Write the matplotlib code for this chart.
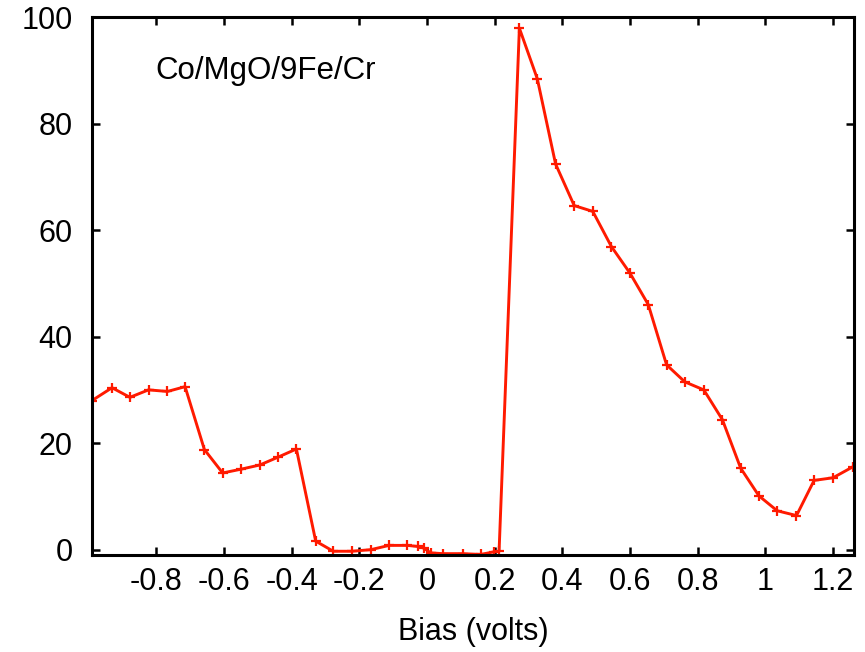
import matplotlib
matplotlib.use("Agg")
import matplotlib.pyplot as plt

bias = [-0.99, -0.931, -0.878, -0.823, -0.767, -0.715, -0.658, -0.604, -0.550,
        -0.494, -0.439, -0.386, -0.329, -0.277, -0.222, -0.166, -0.112, -0.058,
        -0.028, -0.010, 0.011, 0.046, 0.105, 0.159, 0.198, 0.213, 0.273, 0.326,
        0.380, 0.435, 0.490, 0.545, 0.600, 0.654, 0.708, 0.762, 0.818, 0.873,
        0.927, 0.981, 1.035, 1.092, 1.144, 1.200, 1.26]
signal = [28.0, 30.4, 28.6, 30.0, 29.7, 30.6, 18.8, 14.4, 15.1, 15.9, 17.4, 18.9,
          1.6, -0.3, -0.3, 0.0, 0.8, 0.8, 0.6, 0.3, -0.6, -0.75, -0.75, -0.9,
          -0.4, -0.3, 97.9, 88.4, 72.4, 64.6, 63.5, 56.9, 51.9, 46.0, 34.7, 31.5,
          30.0, 24.4, 15.3, 10.1, 7.3, 6.4, 13.0, 13.5, 15.6]
xticks = [-0.8, -0.6, -0.4, -0.2, 0, 0.2, 0.4, 0.6, 0.8, 1, 1.2]
xticklabels = ["-0.8", "-0.6", "-0.4", "-0.2", "0", "0.2", "0.4", "0.6", "0.8", "1", "1.2"]
yticks = [0, 20, 40, 60, 80, 100]
label_text = "Co/MgO/9Fe/Cr"
xlabel = "Bias (volts)"

plt.rcParams['font.family'] = ['Liberation Sans', 'DejaVu Sans']

fig = plt.figure(figsize=(8.65, 6.52), dpi=100)
ax = fig.add_axes([0.1064, 0.1488, 0.8809, 0.8251])

ax.plot(bias, signal, color='#ff1a00', lw=2.1, marker='+', ms=7, mew=1.6)

ax.set_xlim(-0.99, 1.262)
ax.set_ylim(-1, 100)
ax.set_xticks(xticks)
ax.set_xticklabels(xticklabels)
ax.set_yticks(yticks)

for s in ax.spines.values():
    s.set_linewidth(2.2)
    s.set_color('black')

ax.tick_params(direction='in', length=6, width=1.8, top=True, right=True,
               labelsize=22, colors='black')
ax.tick_params(axis='x', pad=9)
ax.tick_params(axis='y', pad=14)

ax.set_xlabel(xlabel, fontsize=22, labelpad=14)
ax.text(0.083, 0.90, label_text, transform=ax.transAxes, fontsize=22.5,
        va='center', ha='left')

fig.savefig("out.png", dpi=100)
